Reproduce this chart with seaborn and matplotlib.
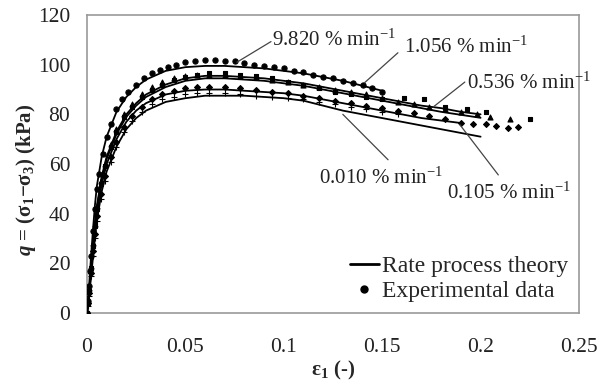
import numpy as np
import pandas as pd
import seaborn as sns
import matplotlib.pyplot as plt
from matplotlib.lines import Line2D

sns.set_theme(style='white')
plt.rcParams['font.family'] = ['Liberation Serif', 'DejaVu Serif']
plt.rcParams['mathtext.fontset'] = 'custom'
plt.rcParams['mathtext.rm'] = 'Liberation Serif'
plt.rcParams['mathtext.it'] = 'Liberation Serif:bold:italic'
plt.rcParams['mathtext.bf'] = 'Liberation Serif:bold'

rates = ['9.820', '1.056', '0.536', '0.105', '0.010']

# rate process theory curves
th_eps = [0, 0.001, 0.002, 0.003, 0.004, 0.005, 0.0075, 0.01, 0.015, 0.02, 0.025, 0.03,
          0.04, 0.05, 0.06, 0.07, 0.08, 0.09, 0.1, 0.11, 0.12, 0.13, 0.14, 0.15,
          0.16, 0.17, 0.18, 0.19, 0.2]
th_9820 = [0, 10, 22, 33, 43, 51, 63, 71, 81, 87, 91, 94, 97.5, 99, 99.5, 99.5, 99, 98.5,
           97.5, 96.5, 95, 93.5, 91.5, 89.5]
th_1056 = [0, 8, 18, 28, 36, 43, 55, 63, 73, 80, 84.5, 88, 92, 94.5, 95.5, 95.5, 95, 94.5,
           93.5, 92.5, 91, 89.5, 88, 86.5, 85, 83.5, 82.5, 81, 80]
th_0536 = [0, 7.5, 17, 27, 35, 42, 54, 62, 72, 79, 83.5, 87, 91, 93.5, 94.5, 94.5, 94, 93.5,
           92.5, 91.5, 90, 88.5, 87, 85.5, 84, 82.5, 81, 79.8, 78.6]
th_0105 = [0, 7, 16, 25, 33, 40, 52, 60, 70, 77, 81.5, 84.5, 88, 89.5, 90, 90, 89.5, 89,
           88.5, 87.5, 86, 84.5, 83, 81.5, 80, 78.5, 77.5, 76.5]
th_0010 = [0, 6, 14, 22, 30, 37, 49, 57, 67, 74, 78.5, 81.5, 85, 86.5, 87.5, 87.5, 87.5, 87,
           86.5, 85.5, 83.5, 81.5, 80, 78.5, 77, 75.5, 74, 72.5, 71]

# experimental data
ex_eps_9820 = [0, 0.0005, 0.001, 0.0015, 0.002, 0.003, 0.004, 0.005, 0.006, 0.008, 0.010,
               0.012, 0.015, 0.018, 0.021, 0.025, 0.029, 0.033, 0.037, 0.041, 0.045, 0.05,
               0.055, 0.06, 0.065, 0.07, 0.075, 0.08, 0.085, 0.09, 0.095, 0.1, 0.105, 0.11,
               0.115, 0.12, 0.125, 0.13, 0.135, 0.14, 0.145, 0.15]
ex_q_9820 = [0, 5, 11, 17, 23, 33, 42, 50, 56, 64, 71, 76, 82, 86, 89, 92, 94.5, 96.5, 98, 99,
             100, 101, 101.5, 102, 102, 101.5, 101.5, 100.5, 100, 99.5, 99, 98.5, 97.5, 97,
             96, 95, 94.5, 93.5, 92.5, 92, 90.5, 89]
ex_eps_1056 = [0, 0.0005, 0.001, 0.002, 0.003, 0.004, 0.005, 0.007, 0.009, 0.012, 0.015,
               0.019, 0.023, 0.028, 0.033, 0.038, 0.044, 0.05, 0.056, 0.062, 0.07, 0.078,
               0.086, 0.094, 0.102, 0.11, 0.118, 0.126, 0.134, 0.142, 0.15, 0.158, 0.166,
               0.174, 0.182, 0.19, 0.198, 0.205, 0.215]
ex_q_1056 = [0, 5, 10, 19, 28, 36, 43, 53, 60, 68, 74, 80, 84, 88, 91, 93, 94.5, 95.5, 96,
             96, 96, 95.5, 95, 94, 93, 92, 91, 90, 89, 88, 86.5, 85, 84, 83, 82, 81, 80, 79,
             78]
ex_eps_0536 = [0, 0.0005, 0.001, 0.002, 0.003, 0.004, 0.005, 0.007, 0.009, 0.012, 0.015,
               0.019, 0.023, 0.028, 0.033, 0.038, 0.044, 0.05, 0.056, 0.062, 0.07, 0.078,
               0.086, 0.094, 0.102, 0.11, 0.118, 0.126, 0.134, 0.142, 0.15, 0.161, 0.171,
               0.182, 0.193, 0.203, 0.225]
ex_q_0536 = [0, 4, 9, 18, 27, 35, 42, 52, 59, 67, 73, 79, 83, 87, 90, 92, 94, 95, 96, 96.5,
             96.5, 96, 95.5, 94.5, 93, 92, 90.5, 89, 88, 87, 86, 86.7, 86, 83, 82, 81, 78]
ex_eps_0105 = [0, 0.0005, 0.001, 0.002, 0.003, 0.004, 0.005, 0.007, 0.009, 0.012, 0.015,
               0.019, 0.023, 0.028, 0.033, 0.038, 0.044, 0.05, 0.056, 0.062, 0.07, 0.078,
               0.086, 0.094, 0.102, 0.11, 0.118, 0.126, 0.134, 0.142, 0.15, 0.158, 0.166,
               0.174, 0.182, 0.19, 0.196, 0.203, 0.208, 0.214, 0.219]
ex_q_0105 = [0, 4, 8, 16, 25, 32, 39, 48, 55, 63, 69, 75, 79.5, 83, 86, 88, 89.5, 90.5, 91,
             91, 91, 90.5, 90, 89, 88.5, 87.5, 86.5, 85.5, 84.5, 83.5, 82.5, 81.5, 80.5,
             79.5, 78, 76.5, 76, 76, 75.4, 74.6, 75]
ex_eps_0010 = [0, 0.0005, 0.001, 0.002, 0.003, 0.004, 0.005, 0.007, 0.009, 0.012, 0.015,
               0.019, 0.023, 0.028, 0.033, 0.038, 0.044, 0.05, 0.056, 0.062, 0.07, 0.078,
               0.086, 0.094, 0.102, 0.11, 0.118, 0.126, 0.134, 0.142, 0.15, 0.158]
ex_q_0010 = [0, 3, 7, 15, 23, 30, 37, 46, 53, 61, 67, 73, 77.5, 81, 84, 86, 87, 88, 88.5,
             88.5, 88.5, 88, 87.5, 87, 86.5, 86, 85, 84, 83, 82, 81, 80]

theory = [th_9820, th_1056, th_0536, th_0105, th_0010]
exp_x = [ex_eps_9820, ex_eps_1056, ex_eps_0536, ex_eps_0105, ex_eps_0010]
exp_y = [ex_q_9820, ex_q_1056, ex_q_0536, ex_q_0105, ex_q_0010]
markers = ['o', '^', 's', 'D', '+']
msizes = [14, 13, 11, 9, 16]

fig = plt.figure(figsize=(5.99, 3.83), dpi=100)
ax = fig.add_axes([0.1452, 0.1828, 0.8214, 0.778])

for i, r in enumerate(rates):
    sns.scatterplot(x=exp_x[i], y=exp_y[i], marker=markers[i], s=msizes[i], color='black',
                    edgecolor='black', linewidth=0.8, ax=ax, zorder=3)
    q = theory[i]
    sns.lineplot(x=th_eps[:len(q)], y=q, color='black', linewidth=1.3, ax=ax,
                 sort=False, estimator=None, zorder=4)

ax.set_xlim(0, 0.25)
ax.set_ylim(0, 120)
ax.set_xticks([0, 0.05, 0.1, 0.15, 0.2, 0.25])
ax.set_xticklabels(['0', '0.05', '0.1', '0.15', '0.2', '0.25'])
ax.set_yticks(range(0, 121, 20))
ax.tick_params(direction='in', length=5, width=1, color='#888888', labelsize=15.5,
               labelcolor='#222222')
ax.tick_params(axis='x', pad=18)
ax.tick_params(axis='y', pad=12)
for sp in ax.spines.values():
    sp.set_color('#999999')
    sp.set_linewidth(1.2)

ax.set_xlabel('ε$_\\mathbf{1}$ (-)', fontsize=15, fontweight='bold')
ax.xaxis.set_label_coords(0.5, -0.155)
ax.set_ylabel('$\\mathit{q}$ = (σ$_\\mathbf{1}$−σ$_\\mathbf{3}$) (kPa)', fontsize=15,
              fontweight='bold')
ax.yaxis.set_label_coords(-0.10, 0.445)

# labels with leader lines
notes = [('9.820', (0.0762, 101), (0.094, 110), (0.0935, 109.3)),
         ('1.056', (0.141, 92.7), (0.161, 107), (0.158, 104.8)),
         ('0.536', (0.176, 83), (0.193, 92.7), (0.192, 93)),
         ('0.010', (0.130, 80), (0.118, 54.4), (0.153, 61.7)),
         ('0.105', (0.1895, 75.8), (0.183, 48.4), (0.209, 55.6))]
for r, tip, txt, start in notes:
    ax.plot([start[0], tip[0]], [start[1], tip[1]], color='#444444', linewidth=0.9, zorder=5)
    ax.text(txt[0], txt[1], r + ' % min$^{-1}$', fontsize=15, ha='left', va='center',
            color='#222222')

handles = [Line2D([], [], color='black', linewidth=2),
           Line2D([], [], color='black', marker='o', linestyle='none', markersize=5)]
ax.legend(handles, ['Rate process theory', 'Experimental data'], loc='lower right',
          frameon=False, fontsize=17, handlelength=1.2, handletextpad=0.15,
          labelspacing=0.15, borderaxespad=0.05, bbox_to_anchor=(1.0, 0.0))

fig.savefig('out.png', dpi=100)
